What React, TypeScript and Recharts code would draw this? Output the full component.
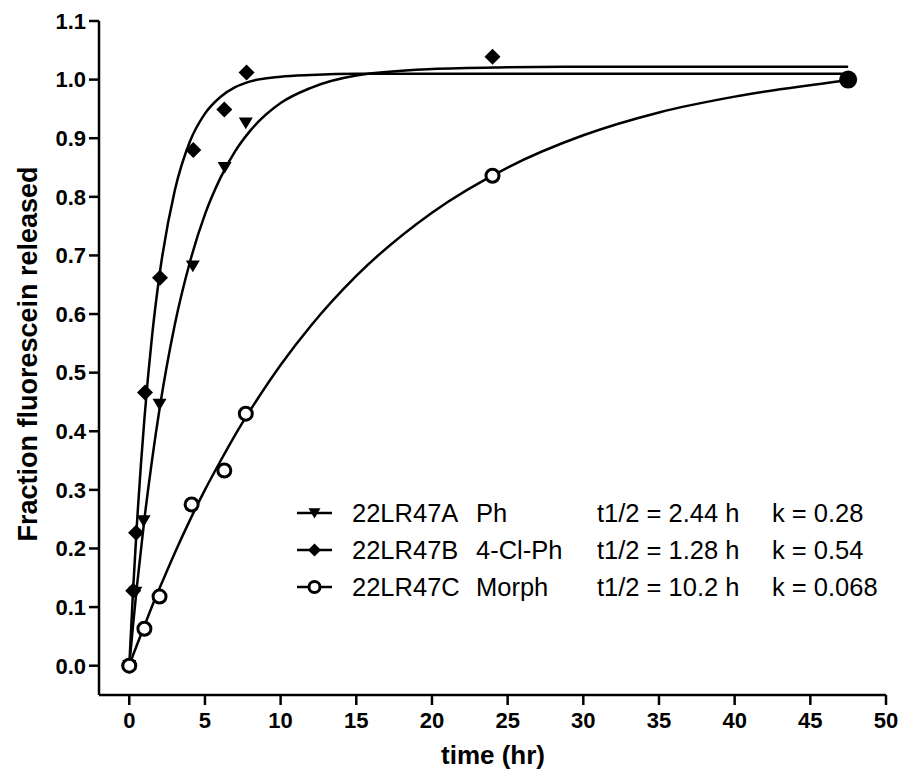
import { ComposedChart, Line, Scatter, XAxis, YAxis } from "recharts";

// measured points (time in hr, fraction released)
const phTime = [0, 0.4, 0.95, 2.0, 4.2, 6.3, 7.7];
const phValue = [0, 0.125, 0.247, 0.446, 0.682, 0.85, 0.926];

const clTime = [0, 0.26, 0.45, 1.04, 2.03, 4.23, 6.28, 7.75, 24.0];
const clValue = [0, 0.128, 0.227, 0.466, 0.662, 0.88, 0.949, 1.012, 1.039];

const morphTime = [0, 1.0, 2.0, 4.12, 6.28, 7.7, 24.0, 47.5];
const morphValue = [0, 0.063, 0.118, 0.275, 0.333, 0.43, 0.836, 1.0];

// fitted curves
const fitTime = [0, 0.25, 0.5, 1, 1.5, 2, 3, 4, 5, 6, 7, 8, 10, 12, 15, 20, 25, 30, 35, 40, 47.5];
const fitPh = [0, 0.069, 0.134, 0.25, 0.35, 0.438, 0.581, 0.688, 0.77, 0.831, 0.878, 0.913, 0.96, 0.986, 1.007, 1.018, 1.021, 1.022, 1.022, 1.022, 1.022];
const fitCl = [0, 0.128, 0.239, 0.421, 0.561, 0.667, 0.81, 0.894, 0.942, 0.97, 0.987, 0.997, 1.005, 1.008, 1.01, 1.01, 1.01, 1.01, 1.01, 1.01, 1.01];
const fitMorph = [0, 0.018, 0.035, 0.068, 0.101, 0.132, 0.192, 0.248, 0.3, 0.348, 0.394, 0.436, 0.513, 0.58, 0.665, 0.773, 0.85, 0.905, 0.944, 0.971, 0.999];

const xTicks = [0, 5, 10, 15, 20, 25, 30, 35, 40, 45, 50];
const yTicks = [0, 0.1, 0.2, 0.3, 0.4, 0.5, 0.6, 0.7, 0.8, 0.9, 1.0, 1.1];

const legendRows = [
  { id: "22LR47A", sub: "Ph", half: "t1/2 = 2.44 h", k: "k = 0.28", marker: "tri" },
  { id: "22LR47B", sub: "4-Cl-Ph", half: "t1/2 = 1.28 h", k: "k = 0.54", marker: "dia" },
  { id: "22LR47C", sub: "Morph", half: "t1/2 = 10.2 h", k: "k = 0.068", marker: "circ" },
];

const FONT = "'Liberation Sans', Arial, Helvetica, sans-serif";

const zip = (ts: number[], ys: number[]) => ts.map((t, i) => ({ t, y: ys[i] }));

function Tri({ cx, cy, s = 7 }: any) {
  return <polygon points={`${cx - s},${cy - s * 0.8} ${cx + s},${cy - s * 0.8} ${cx},${cy + s * 0.9}`} fill="#000" />;
}
function Dia({ cx, cy, s = 8 }: any) {
  return <polygon points={`${cx},${cy - s} ${cx + s},${cy} ${cx},${cy + s} ${cx - s},${cy}`} fill="#000" />;
}
function Circ({ cx, cy, payload }: any) {
  if (payload && payload.t > 40) return <circle cx={cx} cy={cy} r={9} fill="#000" />;
  return <circle cx={cx} cy={cy} r={6.5} fill="#fff" stroke="#000" strokeWidth={3} />;
}

function LegendBox() {
  return (
    <g fontFamily={FONT} fontSize={25.5} fill="#000">
      {legendRows.map((r, i) => {
        const y = 513 + i * 37;
        return (
          <g key={r.id}>
            <line x1={297} x2={332} y1={y} y2={y} stroke="#000" strokeWidth={2.5} />
            {r.marker === "tri" && <Tri cx={314.5} cy={y} s={6} />}
            {r.marker === "dia" && <Dia cx={314.5} cy={y} s={6.5} />}
            {r.marker === "circ" && <circle cx={314.5} cy={y} r={5.5} fill="#fff" stroke="#000" strokeWidth={3} />}
            <text x={352} y={y + 9}>{r.id}</text>
            <text x={476} y={y + 9}>{r.sub}</text>
            <text x={597} y={y + 9}>{r.half}</text>
            <text x={772} y={y + 9}>{r.k}</text>
          </g>
        );
      })}
    </g>
  );
}

export default function App() {
  const tick = { fill: "#000", fontSize: 22, fontWeight: "bold", fontFamily: FONT };
  const axisStroke = { stroke: "#000", strokeWidth: 2.5 };
  return (
    <div style={{ position: "absolute", left: 0, top: 0, background: "#fff" }}>
      <ComposedChart width={906} height={777} margin={{ top: 21, right: 20, left: 0, bottom: 0 }}>
        <XAxis
          type="number"
          dataKey="t"
          domain={[-2, 50]}
          ticks={xTicks}
          allowDataOverflow
          height={82}
          tickSize={10}
          tickMargin={7}
          axisLine={axisStroke}
          tickLine={axisStroke}
          tick={tick}
        />
        <YAxis
          type="number"
          dataKey="y"
          domain={[-0.05, 1.1]}
          ticks={yTicks}
          allowDataOverflow
          width={99}
          tickSize={10}
          tickMargin={3}
          axisLine={axisStroke}
          tickLine={axisStroke}
          tick={tick}
          tickFormatter={(v: number) => v.toFixed(1)}
        />
        <Line data={zip(fitTime, fitPh)} dataKey="y" type="monotone" stroke="#000" strokeWidth={2.5} dot={false} isAnimationActive={false} />
        <Line data={zip(fitTime, fitCl)} dataKey="y" type="monotone" stroke="#000" strokeWidth={2.5} dot={false} isAnimationActive={false} />
        <Line data={zip(fitTime, fitMorph)} dataKey="y" type="monotone" stroke="#000" strokeWidth={2.5} dot={false} isAnimationActive={false} />
        <Scatter data={zip(phTime, phValue)} dataKey="y" shape={<Tri />} isAnimationActive={false} />
        <Scatter data={zip(clTime, clValue)} dataKey="y" shape={<Dia />} isAnimationActive={false} />
        <Scatter data={zip(morphTime, morphValue)} dataKey="y" shape={<Circ />} isAnimationActive={false} />
        <LegendBox />
        <text x={493} y={764} textAnchor="middle" fontFamily={FONT} fontWeight="bold" fontSize={26} fill="#000">
          time (hr)
        </text>
        <text transform="translate(37,354) rotate(-90)" textAnchor="middle" fontFamily={FONT} fontWeight="bold" fontSize={27} fill="#000">
          Fraction fluorescein released
        </text>
      </ComposedChart>
    </div>
  );
}
